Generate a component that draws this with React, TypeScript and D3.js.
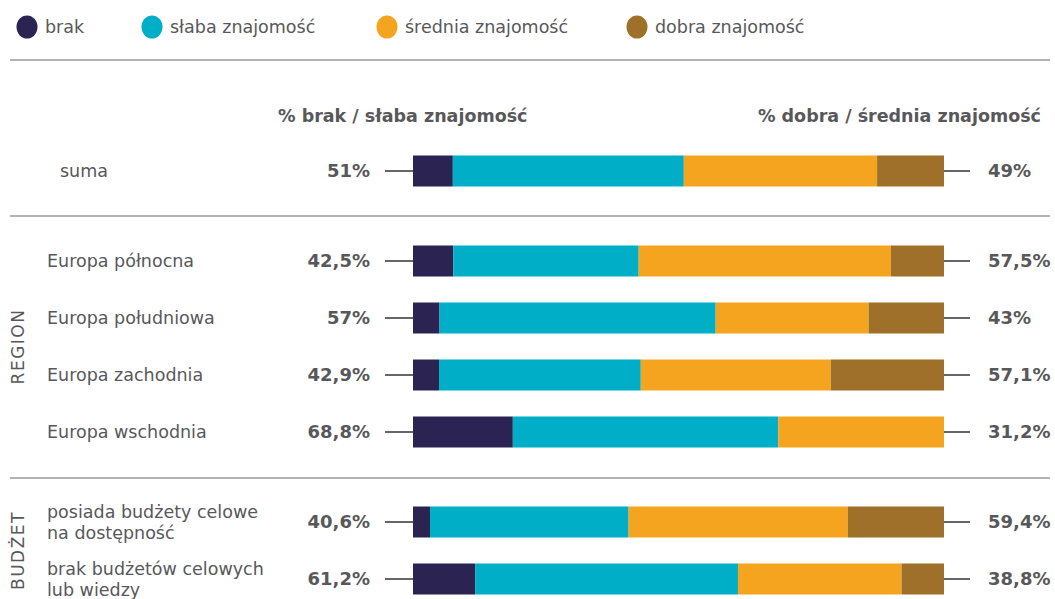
import React from "react";
import * as d3 from "d3";

const categories = [
  "suma",
  "Europa północna",
  "Europa południowa",
  "Europa zachodnia",
  "Europa wschodnia",
  "posiada budżety celowe\nna dostępność",
  "brak budżetów celowych\nlub wiedzy",
];
const groupOf = [0, 1, 1, 1, 1, 2, 2];
const groupNames = ["", "REGION", "BUDŻET"];

const seriesNames = ["brak", "słaba znajomość", "średnia znajomość", "dobra znajomość"];
const brak = [7.5, 7.6, 5.0, 4.9, 18.8, 3.2, 11.7];
const slaba = [43.5, 34.9, 52.0, 38.0, 50.0, 37.4, 49.5];
const srednia = [36.4, 47.5, 28.8, 35.8, 31.2, 41.3, 30.8];
const dobra = [12.6, 10.0, 14.2, 21.3, 0, 18.1, 8.0];

const leftLabels = ["51%", "42,5%", "57%", "42,9%", "68,8%", "40,6%", "61,2%"];
const rightLabels = ["49%", "57,5%", "43%", "57,1%", "31,2%", "59,4%", "38,8%"];

const headerLeft = "% brak / słaba znajomość";
const headerRight = "% dobra / średnia znajomość";

const colors = ["#2b2453", "#00aec7", "#f5a420", "#9e7029"];
const textColor = "#58585a";
const font = "'DejaVu Sans', sans-serif";

export default function App() {
  const W = 1055;
  const H = 599;
  const x = d3.scaleLinear().domain([0, 100]).range([413, 944]);
  const step = 57;
  const groupGap = 33;
  const y0 = 171;
  const rowY = (i: number) => y0 + i * step + groupOf[i] * groupGap;
  const barH = 31;

  const values = categories.map((_, i) => [brak[i], slaba[i], srednia[i], dobra[i]]);
  const stacked = values.map((v) => {
    let acc = 0;
    return v.map((val) => {
      const s = acc;
      acc += val;
      return [s, acc];
    });
  });

  const legendX = [27, 152, 387, 637];

  const sepY = [60, 216, 478];

  const groupCenter = (g: number) => {
    const idx = categories.map((_, i) => i).filter((i) => groupOf[i] === g);
    return (rowY(idx[0]) + rowY(idx[idx.length - 1])) / 2;
  };

  return (
    <div style={{ position: "fixed", left: 0, top: 0 }}>
      <svg width={W} height={H} style={{ display: "block", background: "#fff" }} fontFamily={font}>
        {seriesNames.map((s, i) => (
          <g key={s}>
            <ellipse cx={legendX[i]} cy={27} rx={10.5} ry={11.5} fill={colors[i]} />
            <text x={legendX[i] + 18} y={27} dy="0.35em" fontSize={17.5} fill={textColor}>
              {s}
            </text>
          </g>
        ))}
        {sepY.map((yy) => (
          <line key={yy} x1={10} x2={1050} y1={yy} y2={yy} stroke="#9a9a9a" strokeWidth={1.5} />
        ))}
        <text x={278} y={116} dy="0.35em" fontSize={17.5} fontWeight="bold" fill={textColor}>
          {headerLeft}
        </text>
        <text x={1041} y={116} dy="0.35em" fontSize={17.5} fontWeight="bold" fill={textColor} textAnchor="end">
          {headerRight}
        </text>
        {categories.map((c, i) => {
          const cy = rowY(i);
          const lines = c.split("\n");
          const lx = i === 0 ? 60 : 47;
          return (
            <g key={c}>
              {lines.map((ln, k) => (
                <text
                  key={k}
                  x={lx}
                  y={cy + (k - (lines.length - 1) / 2) * 21}
                  dy="0.35em"
                  fontSize={17.5}
                  fill={textColor}
                >
                  {ln}
                </text>
              ))}
              <line x1={385} x2={x(0)} y1={cy} y2={cy} stroke="#333" strokeWidth={1.5} />
              <line x1={x(100)} x2={970} y1={cy} y2={cy} stroke="#333" strokeWidth={1.5} />
              {stacked[i].map(([a, b], k) =>
                b - a > 0 ? (
                  <rect
                    key={k}
                    x={x(a)}
                    y={cy - barH / 2}
                    width={x(b) - x(a)}
                    height={barH}
                    fill={colors[k]}
                  />
                ) : null
              )}
              <text x={370} y={cy} dy="0.35em" fontSize={18} fontWeight="bold" fill={textColor} textAnchor="end">
                {leftLabels[i]}
              </text>
              <text x={988} y={cy} dy="0.35em" fontSize={18} fontWeight="bold" fill={textColor}>
                {rightLabels[i]}
              </text>
            </g>
          );
        })}
        {[1, 2].map((g) => (
          <text
            key={g}
            transform={`translate(18,${groupCenter(g)}) rotate(-90)`}
            textAnchor="middle"
            dy="0.35em"
            fontSize={17}
            fill={textColor}
            letterSpacing={1.5}
          >
            {groupNames[g]}
          </text>
        ))}
      </svg>
    </div>
  );
}
